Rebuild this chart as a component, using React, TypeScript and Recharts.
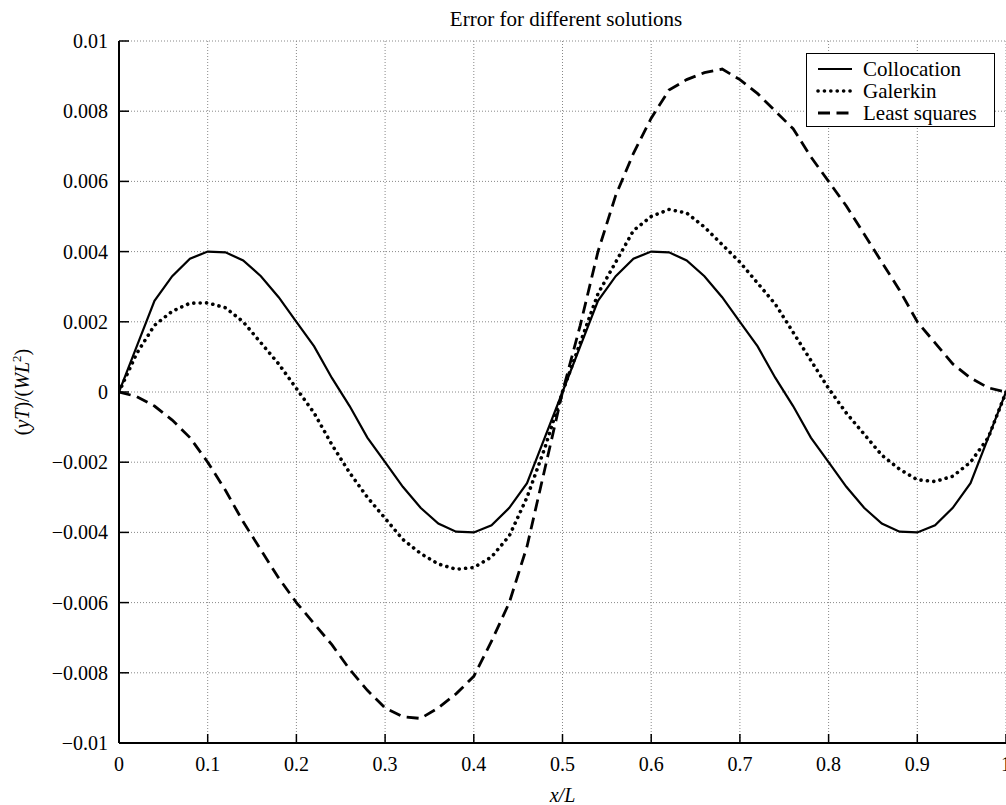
import React from 'react';
import { LineChart, Line, XAxis, YAxis, CartesianGrid, Legend, Label } from 'recharts';

const FONT = '"Liberation Serif", "Times New Roman", serif';

const chartTitle = 'Error for different solutions';
const xAxisTitle = 'x/L';
const seriesNames = ['Collocation', 'Galerkin', 'Least squares'];

const xValues = [
  0, 0.02, 0.04, 0.06, 0.08, 0.1, 0.12, 0.14, 0.16, 0.18, 0.2, 0.22, 0.24, 0.26, 0.28, 0.3, 0.32,
  0.34, 0.36, 0.38, 0.4, 0.42, 0.44, 0.46, 0.48, 0.5, 0.52, 0.54, 0.56, 0.58, 0.6, 0.62, 0.64, 0.66,
  0.68, 0.7, 0.72, 0.74, 0.76, 0.78, 0.8, 0.82, 0.84, 0.86, 0.88, 0.9, 0.92, 0.94, 0.96, 0.98, 1.0,
];

const collocation = [
  0, 0.0013, 0.0026, 0.0033, 0.0038, 0.004, 0.00398, 0.00375, 0.0033, 0.0027, 0.002, 0.0013, 0.0004,
  -0.0004, -0.0013, -0.002, -0.0027, -0.0033, -0.00375, -0.00398, -0.004, -0.0038, -0.0033, -0.0026,
  -0.0013, 0, 0.0013, 0.0026, 0.0033, 0.0038, 0.004, 0.00398, 0.00375, 0.0033, 0.0027, 0.002, 0.0013,
  0.0004, -0.0004, -0.0013, -0.002, -0.0027, -0.0033, -0.00375, -0.00398, -0.004, -0.0038, -0.0033,
  -0.0026, -0.0013, 0,
];

const galerkin = [
  0, 0.0011, 0.0019, 0.0023, 0.00253, 0.00254, 0.0024, 0.002, 0.0014, 0.0008, 0.0001, -0.0006,
  -0.0015, -0.0023, -0.003, -0.0036, -0.0042, -0.0046, -0.0049, -0.00505, -0.005, -0.0047, -0.0041,
  -0.003, -0.0016, 0, 0.0014, 0.0028, 0.0037, 0.0046, 0.005, 0.0052, 0.0051, 0.0047, 0.0042, 0.0037,
  0.0031, 0.0025, 0.0017, 0.0009, 0.0001, -0.0006, -0.0012, -0.0018, -0.0022, -0.0025, -0.00255,
  -0.0024, -0.002, -0.0013, 0,
];

const leastSquares = [
  0, -0.00013, -0.0004, -0.0008, -0.0013, -0.002, -0.0028, -0.0037, -0.0045, -0.0053, -0.006,
  -0.0066, -0.0072, -0.0079, -0.0085, -0.009, -0.00925, -0.0093, -0.009, -0.0086, -0.0081, -0.0071,
  -0.006, -0.0044, -0.0022, 0, 0.0019, 0.004, 0.0056, 0.0068, 0.0078, 0.0086, 0.0089, 0.0091, 0.0092,
  0.0089, 0.0085, 0.008, 0.0075, 0.0067, 0.006, 0.0053, 0.0045, 0.0037, 0.0029, 0.002, 0.0014, 0.0008,
  0.0004, 0.00012, 0,
];

const xTicks = [0, 0.1, 0.2, 0.3, 0.4, 0.5, 0.6, 0.7, 0.8, 0.9, 1];
const xTickLabels = ['0', '0.1', '0.2', '0.3', '0.4', '0.5', '0.6', '0.7', '0.8', '0.9', '1'];
const yTicks = [-0.01, -0.008, -0.006, -0.004, -0.002, 0, 0.002, 0.004, 0.006, 0.008, 0.01];
const yTickLabels = [
  '\u22120.01', '\u22120.008', '\u22120.006', '\u22120.004', '\u22120.002', '0',
  '0.002', '0.004', '0.006', '0.008', '0.01',
];

const data = xValues.map((x, i) => ({
  x,
  collocation: collocation[i],
  galerkin: galerkin[i],
  leastSquares: leastSquares[i],
}));

const lineStyles: Record<string, { w: number; dash?: string; cap: 'butt' | 'round' }> = {
  collocation: { w: 2.2, cap: 'butt' },
  galerkin: { w: 3.6, dash: '0.1 6.3', cap: 'round' },
  leastSquares: { w: 2.8, dash: '12 6.5', cap: 'butt' },
};

const XTick = (props: any) => {
  const { x, y, payload } = props;
  const i = xTicks.indexOf(payload.value);
  return (
    <g>
      <line x1={x} x2={x} y1={y} y2={y - 9} stroke="#000" strokeWidth={1.5} />
      <text x={x} y={y + 28} textAnchor="middle" fontSize={20} fontFamily={FONT} fill="#000">
        {i >= 0 ? xTickLabels[i] : ''}
      </text>
    </g>
  );
};

const YTick = (props: any) => {
  const { x, y, payload } = props;
  const i = yTicks.indexOf(payload.value);
  return (
    <g>
      <line x1={x} x2={x + 10} y1={y} y2={y} stroke="#000" strokeWidth={1.5} />
      <text x={x - 11} y={y + 7} textAnchor="end" fontSize={20} fontFamily={FONT} fill="#000">
        {i >= 0 ? yTickLabels[i] : ''}
      </text>
    </g>
  );
};

const YAxisTitle = (props: any) => {
  const vb = props.viewBox || {};
  const cy = (vb.y ?? 41) + (vb.height ?? 702) / 2;
  const cx = 29;
  return (
    <text
      x={cx}
      y={cy}
      transform={`rotate(-90, ${cx}, ${cy})`}
      textAnchor="middle"
      fontSize={20}
      fontFamily={FONT}
      fill="#000"
    >
      <tspan>(</tspan>
      <tspan fontStyle="italic">yT</tspan>
      <tspan>)/(</tspan>
      <tspan fontStyle="italic">WL</tspan>
      <tspan dy={-8} fontSize={13}>2</tspan>
      <tspan dy={8}>)</tspan>
    </text>
  );
};

const XAxisTitle = (props: any) => {
  const vb = props.viewBox || {};
  const cx = (vb.x ?? 119) + (vb.width ?? 887) / 2;
  const by = (vb.y ?? 743) + (vb.height ?? 62) - 3;
  return (
    <text x={cx} y={by} textAnchor="middle" fontSize={20} fontStyle="italic" fontFamily={FONT} fill="#000">
      {xAxisTitle}
    </text>
  );
};

const LegendBox = (props: any) => {
  const payload: any[] = props.payload || [];
  return (
    <div
      style={{
        border: '1.5px solid #000',
        background: '#fff',
        boxSizing: 'border-box',
        width: 189,
        height: 74,
        paddingTop: 4,
        fontFamily: FONT,
        fontSize: 21,
        color: '#000',
      }}
    >
      {payload.map((entry, idx) => {
        const st = lineStyles[entry.dataKey as string] || lineStyles.collocation;
        return (
          <div key={idx} style={{ display: 'flex', alignItems: 'center', height: 22 }}>
            <svg width={56} height={22} style={{ display: 'block' }}>
              <line
                x1={11}
                x2={45}
                y1={11}
                y2={11}
                stroke="#000"
                strokeWidth={st.w}
                strokeDasharray={st.dash}
                strokeLinecap={st.cap}
              />
            </svg>
            <span style={{ lineHeight: '22px', whiteSpace: 'nowrap' }}>{entry.value}</span>
          </div>
        );
      })}
    </div>
  );
};

export default function App() {
  return (
    <div style={{ position: 'absolute', left: 0, top: 0, width: 1006, height: 805, background: '#fff' }}>
      <div
        style={{
          position: 'absolute',
          left: 366,
          top: 9,
          width: 400,
          textAlign: 'center',
          fontFamily: FONT,
          fontSize: 21,
          lineHeight: '20px',
          whiteSpace: 'nowrap',
          color: '#000',
          zIndex: 2,
        }}
      >
        {chartTitle}
      </div>
      <LineChart
        width={1006}
        height={805}
        data={data}
        margin={{ top: 41, right: 0, bottom: 0, left: 0 }}
        style={{ fontFamily: FONT }}
      >
        <CartesianGrid stroke="#888" strokeWidth={1} strokeDasharray="1 2" ticks={yTicks as any} />
        <XAxis
          dataKey="x"
          type="number"
          domain={[0, 1]}
          ticks={xTicks}
          interval={0}
          height={62}
          tickSize={0}
          tickMargin={0}
          tickLine={false}
          tick={<XTick />}
          axisLine={{ stroke: '#000', strokeWidth: 2 }}
          allowDataOverflow
        >
          <Label content={<XAxisTitle />} />
        </XAxis>
        <YAxis
          type="number"
          domain={[-0.01, 0.01]}
          ticks={yTicks}
          interval={0}
          width={119}
          tickSize={0}
          tickMargin={0}
          tickLine={false}
          tick={<YTick />}
          axisLine={{ stroke: '#000', strokeWidth: 2 }}
          allowDataOverflow
        >
          <Label content={<YAxisTitle />} />
        </YAxis>
        <Legend
          layout="vertical"
          align="center"
          verticalAlign="middle"
          content={<LegendBox />}
          wrapperStyle={{ left: 806, top: 53, width: 189, height: 74 }}
        />
        <Line
          type="linear"
          dataKey="collocation"
          name={seriesNames[0]}
          stroke="#000"
          strokeWidth={lineStyles.collocation.w}
          dot={false}
          activeDot={false}
          isAnimationActive={false}
        />
        <Line
          type="linear"
          dataKey="galerkin"
          name={seriesNames[1]}
          stroke="#000"
          strokeWidth={lineStyles.galerkin.w}
          strokeDasharray={lineStyles.galerkin.dash}
          strokeLinecap="round"
          dot={false}
          activeDot={false}
          isAnimationActive={false}
        />
        <Line
          type="linear"
          dataKey="leastSquares"
          name={seriesNames[2]}
          stroke="#000"
          strokeWidth={lineStyles.leastSquares.w}
          strokeDasharray={lineStyles.leastSquares.dash}
          dot={false}
          activeDot={false}
          isAnimationActive={false}
        />
      </LineChart>
    </div>
  );
}
